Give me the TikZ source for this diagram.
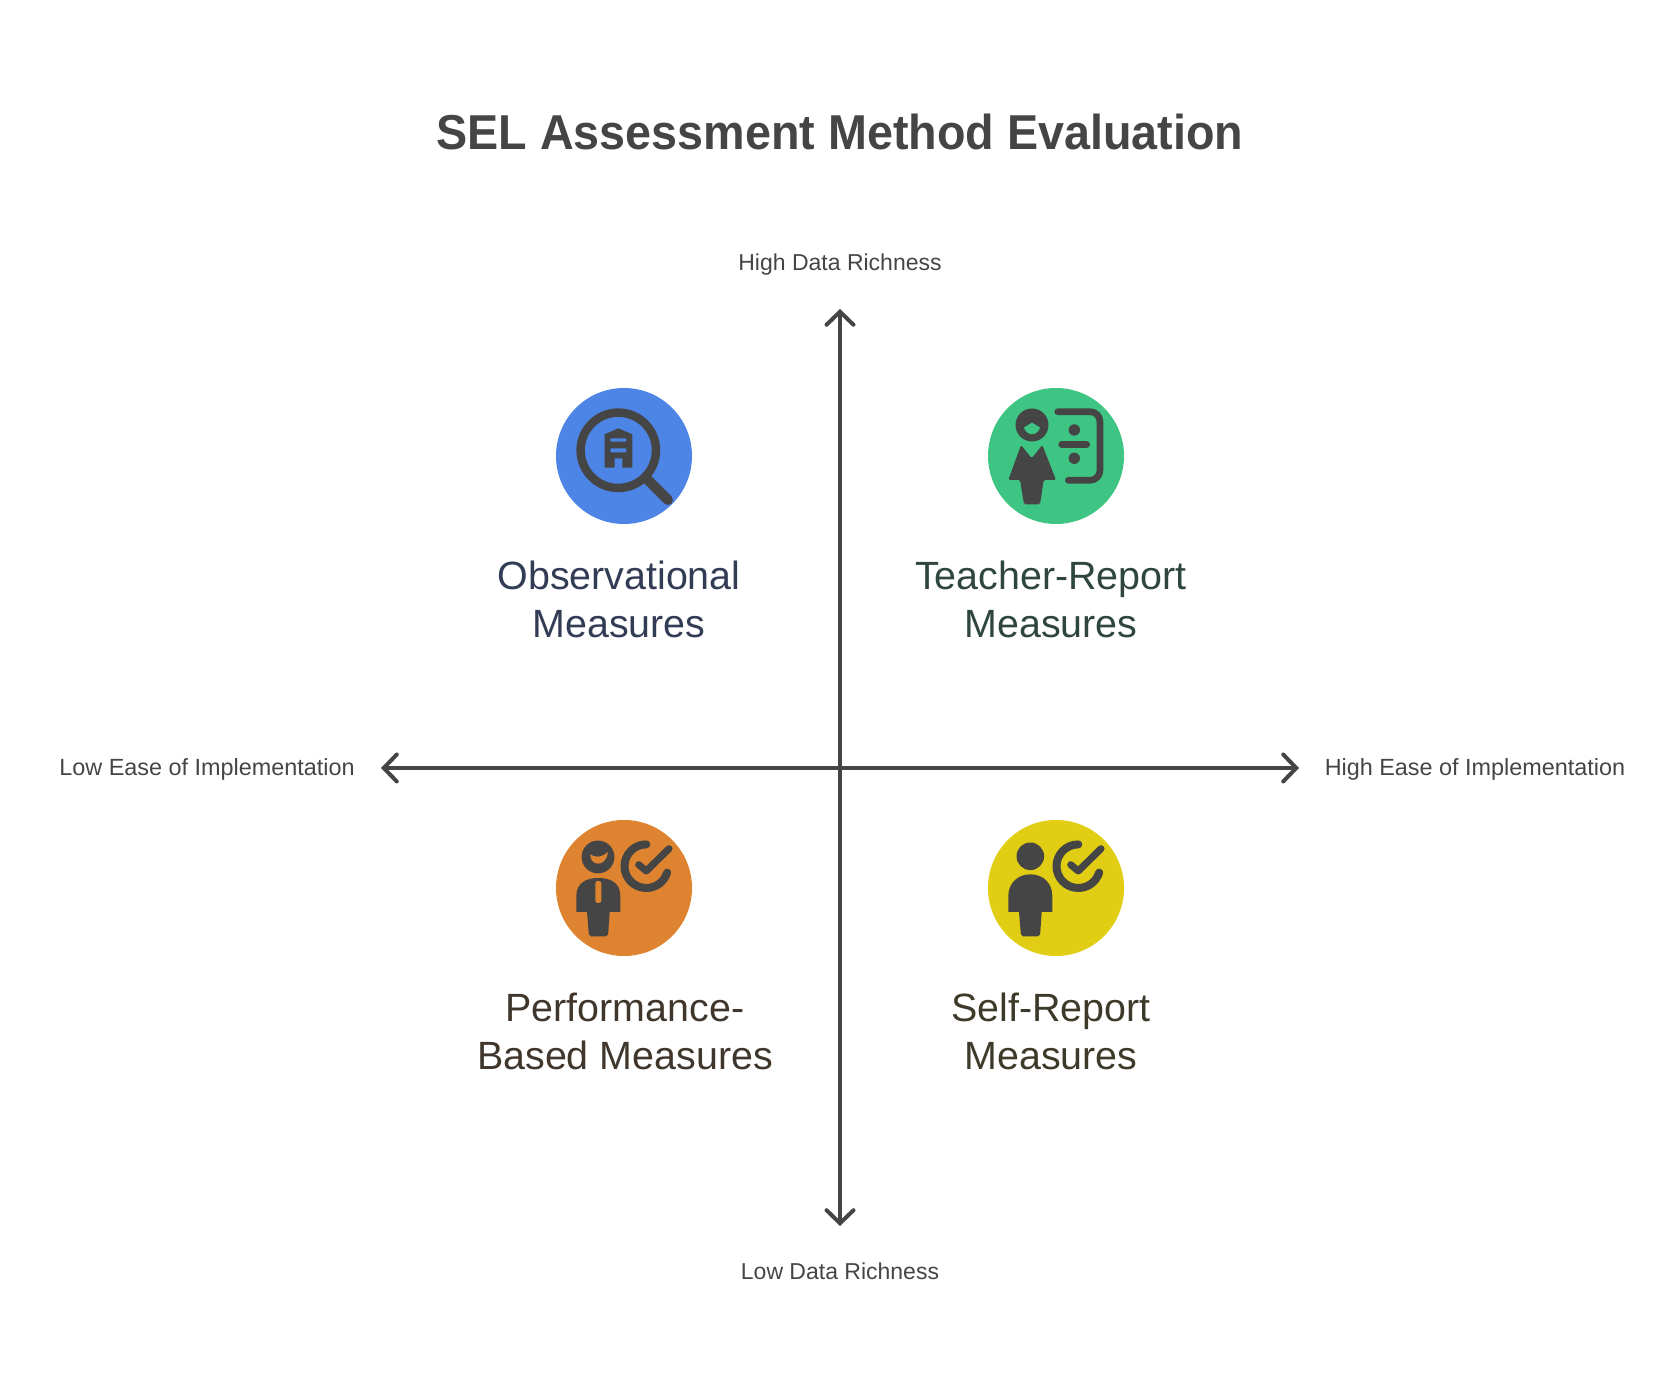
\documentclass[tikz,border=0pt]{standalone}
\usepackage{fontspec}
\setmainfont{Liberation Sans}
\newfontfamily\titlefont[FakeStretch=0.953]{Liberation Sans}
\usetikzlibrary{arrows.meta}

\definecolor{inkgrey}{HTML}{454545}
\definecolor{obsblue}{HTML}{4C85E6}
\definecolor{teachgreen}{HTML}{3EC483}
\definecolor{perforange}{HTML}{DE832F}
\definecolor{selfyellow}{HTML}{E0CD14}
\definecolor{obstext}{HTML}{333C55}
\definecolor{teachtext}{HTML}{2F4540}
\definecolor{perftext}{HTML}{40362C}
\definecolor{selftext}{HTML}{3D3A2A}

\tikzset{
  axis/.style={draw=inkgrey,line width=4pt,{Straight Barb[length=13pt,width=27pt,line cap=round]}-{Straight Barb[length=13pt,width=27pt,line cap=round]}},
  axislabel/.style={text=inkgrey,font=\fontsize{23}{28}\selectfont},
  easelabel/.style={text=inkgrey,font=\fontsize{23.4}{28}\selectfont},
  quadlabel/.style={align=center,font=\fontsize{39.4}{48}\selectfont},
  disc/.style={circle,minimum size=136pt,inner sep=0pt},
  inkstroke/.style={draw=inkgrey,line cap=round,line join=round},
  pics/checkring/.style={code={
    \draw[inkstroke,line width=8pt] (22.3,43.6) arc (90:343:21.8);
    \draw[inkstroke,line width=7pt] (14.7,23.3) -- (22.3,17) -- (45,39.3);
  }},
  pics/person/.style={code={
    \fill[inkgrey] (-25.7,#1) .. controls (-13,#1) and (-3.7,5) .. (-3.7,-8) -- (-3.7,-24) -- (-47.7,-24) -- (-47.7,-8) .. controls (-47.7,5) and (-38,#1) .. (-25.7,#1) -- cycle;
    \fill[inkgrey,rounded corners=2pt] (-14.3,-20) -- (-14.3,-24) -- (-16,-48.3) -- (-35,-48.3) -- (-37,-24) -- (-37,-20) -- cycle;
  }}
}

\begin{document}
\begin{tikzpicture}[x=1pt,y=1pt]
\useasboundingbox (0,0) rectangle (1680,1392);

\node[text=inkgrey,font=\titlefont\fontsize{49}{60}\selectfont\bfseries] (title) at (840,1260) {SEL Assessment Method Evaluation};

% axes
\coordinate (west) at (381,624);
\coordinate (east) at (1299,624);
\coordinate (north) at (840,1083);
\coordinate (south) at (840,166);
\draw[axis] (west) -- (east);
\draw[axis] (south) -- (north);

\node[axislabel] (high data) at (840,1127) {High Data Richness};
\node[axislabel] (low data) at (840,121) {Low Data Richness};
\node[easelabel] (low ease) at (207,623) {Low Ease of Implementation};
\node[easelabel] (high ease) at (1475,623) {High Ease of Implementation};

% top left
\node[disc,fill=obsblue] (obs) at (624,936) {};
\begin{scope}[shift={(obs)}]
  \draw[inkstroke,line width=8.5pt] (-5.7,5.7) circle (37.7);
  \draw[inkstroke,line width=10pt] (22,-22) -- (44,-44);
  \fill[inkgrey] (-19.3,21.7) -- (-5.7,27.7) -- (8.3,21.7) -- (8.3,-11.7) -- (-1.7,-11.7) -- (-1.7,-2.3) -- (-9.3,-2.3) -- (-9.3,-11.7) -- (-19.3,-11.7) -- cycle;
  \fill[obsblue,rounded corners=1pt] (-13.7,17.7) rectangle (2.3,14.3);
  \fill[obsblue,rounded corners=1pt] (-13.7,7.7) rectangle (2.3,3.7);
\end{scope}
\node[quadlabel,text=obstext] (obs label) at (619,793) {Observational\\Measures};

% top right
\node[disc,fill=teachgreen] (teach) at (1056,936) {};
\begin{scope}[shift={(teach)}]
  \fill[inkgrey] (-24,31) circle (16.5);
  \fill[teachgreen] (-32,28.5) -- (-24,33.3) -- (-16,28.5) .. controls (-17,24) and (-21,21.7) .. (-24,21.7) .. controls (-27,21.7) and (-31,24) .. (-32,28.5) -- cycle;
  \fill[inkgrey,rounded corners=1.5pt] (-35,11) -- (-24.3,-2.3) -- (-13.7,11) -- (0,-24) -- (-12.3,-24) -- (-16,-48.3) -- (-32,-48.3) -- (-36,-24) -- (-47.7,-24) -- cycle;
  \draw[inkstroke,line width=6.7pt,rounded corners=10pt] (1.7,44.3) -- (44,44.3) -- (44,-24.3) -- (12.3,-24.3);
  \fill[inkgrey] (18.3,26) circle (5.7);
  \fill[inkgrey] (18.3,-2.3) circle (5.7);
  \draw[inkstroke,line width=6.7pt] (5.7,11.7) -- (30.7,11.7);
\end{scope}
\node[quadlabel,text=teachtext] (teach label) at (1051,793) {Teacher-Report\\Measures};

% bottom left
\node[disc,fill=perforange] (perf) at (624,504) {};
\begin{scope}[shift={(perf)}]
  \fill[inkgrey] (-26,31) circle (16.4);
  \fill[perforange] (-33.7,33.7) .. controls (-30,30.5) and (-23,30) .. (-16,36) .. controls (-16.5,29) and (-21,24.3) .. (-26,24.3) .. controls (-31,24.3) and (-34,29) .. (-33.7,33.7) -- cycle;
  \path (0,0) pic {person=10};
  \fill[perforange,rounded corners=2.5pt] (-28.7,7) rectangle (-22.7,-15);
  \path (0,0) pic {checkring};
\end{scope}
\node[quadlabel,text=perftext] (perf label) at (625,361) {Performance-\\Based Measures};

% bottom right
\node[disc,fill=selfyellow] (self) at (1056,504) {};
\begin{scope}[shift={(self)}]
  \fill[inkgrey] (-25.7,31.7) circle (13.8);
  \path (0,0) pic {person=13.7};
  \path (0,0) pic {checkring};
\end{scope}
\node[quadlabel,text=selftext] (self label) at (1051,361) {Self-Report\\Measures};
\end{tikzpicture}
\end{document}
